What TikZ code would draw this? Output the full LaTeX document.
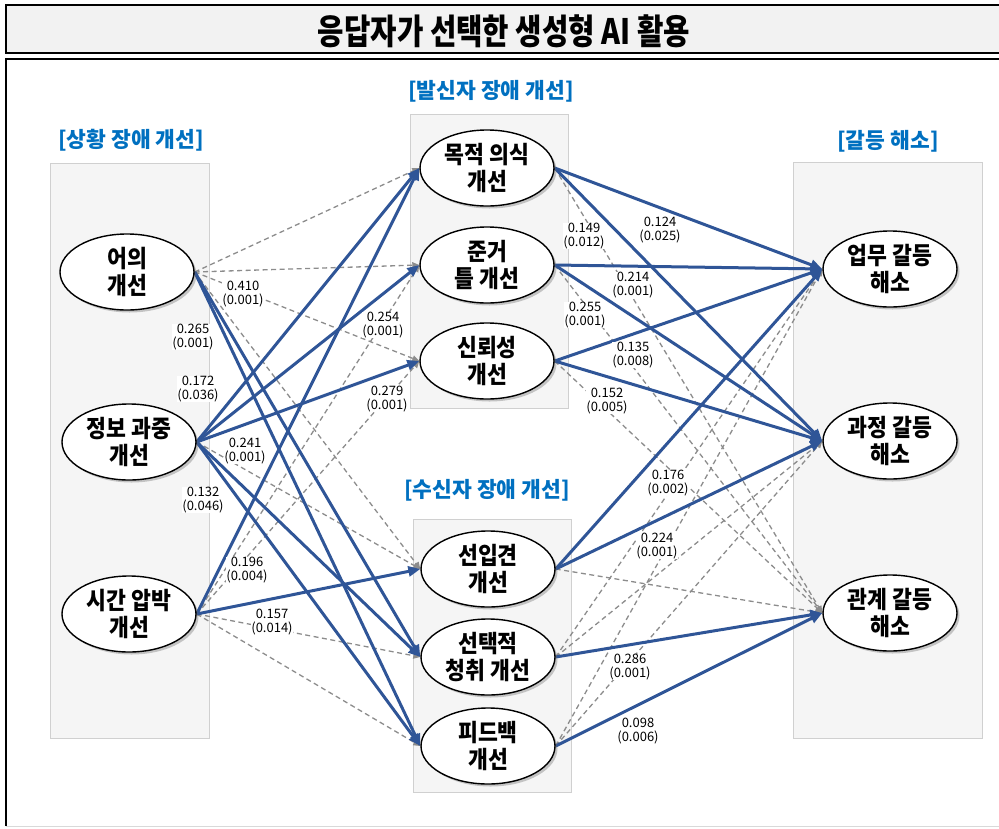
\documentclass[tikz,border=0pt]{standalone}
\usepackage{fontspec}
\usetikzlibrary{shapes.geometric,arrows.meta,shadows}
\newfontfamily\krfont{Noto Sans CJK KR}
\newfontfamily\krtitle{Noto Sans CJK KR}[FakeStretch=0.82]
\newfontfamily\krnode{Noto Sans CJK KR}[FakeStretch=0.9]
\definecolor{pathblue}{HTML}{2F5597}
\definecolor{labblue}{HTML}{0070C0}
\definecolor{grpfill}{HTML}{F5F5F5}
\definecolor{grpline}{HTML}{D0D0D0}
\definecolor{dashgray}{HTML}{8C8C8C}
\pgfdeclarelayer{bg}
\pgfdeclarelayer{edges}
\pgfsetlayers{bg,edges,main}
\tikzset{
  ell/.style={ellipse, draw=black, line width=1.4pt, fill=white,
    minimum width=134pt, minimum height=76pt, inner sep=0pt, align=center,
    font=\krnode\bfseries\fontsize{24}{27.5}\selectfont,
    drop shadow={shadow xshift=2.5pt, shadow yshift=-2.5pt, opacity=0.35, fill=black!60}},
  grp/.style={draw=grpline, fill=grpfill, line width=0.8pt},
  grplabel/.style={text=labblue, inner sep=0pt, font=\krfont\bfseries\fontsize{21.5}{24}\selectfont},
  sig/.style={draw=pathblue, line width=3pt, -{Triangle[length=12pt,width=10pt]}},
  ns/.style={draw=dashgray, line width=1.3pt, dash pattern=on 5pt off 3.5pt, -{Triangle[length=7pt,width=6pt]}},
  coef/.style={fill=white, inner sep=0.6pt, align=center, font=\krfont\fontsize{13}{13.5}\selectfont},
}
\begin{document}
\begin{tikzpicture}[x=1pt,y=-1pt]
\useasboundingbox (0,0) rectangle (999,828);
% frames
\draw[black!15, line width=1pt] (6,826) -- (1010,826);
\draw[black, line width=2.5pt] (6,826) -- (6,59) -- (1010,59);
\draw[fill=black!5, line width=2.5pt] (6,5) rectangle (1010,53);
\node[font=\krtitle\bfseries\fontsize{35}{38}\selectfont, inner sep=0pt] (title) at (504,31) {응답자가 선택한 생성형 AI 활용};
% groups
\begin{pgfonlayer}{bg}
\draw[grp] (50,163) rectangle (209,738);
\draw[grp] (410,114) rectangle (568,408);
\draw[grp] (413,519) rectangle (571,792);
\draw[grp] (793,162) rectangle (982,738);
\end{pgfonlayer}
\node[grplabel] (g1) at (131,140) {[상황 장애 개선]};
\node[grplabel] (g2) at (491,91) {[발신자 장애 개선]};
\node[grplabel] (g3) at (487,490) {[수신자 장애 개선]};
\node[grplabel] (g4) at (888,141) {[갈등 해소]};
% nodes
\node[ell] (a1) at (127,272) {어의\\개선};
\node[ell] (a2) at (129,442) {정보 과중\\개선};
\node[ell] (a3) at (129,614) {시간 압박\\개선};
\node[ell] (m1) at (487,168) {목적 의식\\개선};
\node[ell] (m2) at (487,265) {준거\\틀 개선};
\node[ell] (m3) at (487,361) {신뢰성\\개선};
\node[ell] (m4) at (488,569) {선입견\\개선};
\node[ell] (m5) at (488,657) {선택적\\청취 개선};
\node[ell] (m6) at (488,746) {피드백\\개선};
\node[ell] (r1) at (890,269) {업무 갈등\\해소};
\node[ell] (r2) at (890,441) {과정 갈등\\해소};
\node[ell] (r3) at (890,613) {관계 갈등\\해소};
% edges
\begin{pgfonlayer}{edges}
\draw[ns] (a1.east) -- (m1.west);
\draw[ns] (a1.east) -- (m2.west);
\draw[ns] (a1.east) -- (m3.west);
\draw[ns] (a1.east) -- (m4.west);
\draw[ns] (a2.east) -- (m4.west);
\draw[ns] (a3.east) -- (m2.west);
\draw[ns] (a3.east) -- (m3.west);
\draw[ns] (a3.east) -- (m5.west);
\draw[ns] (a3.east) -- (m6.west);
\draw[ns] (m1.east) -- (r3.west);
\draw[ns] (m2.east) -- (r3.west);
\draw[ns] (m3.east) -- (r3.west);
\draw[ns] (m4.east) -- (r3.west);
\draw[ns] (m5.east) -- (r1.west);
\draw[ns] (m5.east) -- (r2.west);
\draw[ns] (m6.east) -- (r1.west);
\draw[ns] (m6.east) -- (r2.west);
\draw[sig] (a1.east) -- (m5.west);
\draw[sig] (a1.east) -- (m6.west);
\draw[sig] (a2.east) -- (m1.west);
\draw[sig] (a2.east) -- (m2.west);
\draw[sig] (a2.east) -- (m3.west);
\draw[sig] (a2.east) -- (m5.west);
\draw[sig] (a2.east) -- (m6.west);
\draw[sig] (a3.east) -- (m1.west);
\draw[sig] (a3.east) -- (m4.west);
\draw[sig] (m1.east) -- (r1.west);
\draw[sig] (m1.east) -- (r2.west);
\draw[sig] (m2.east) -- (r1.west);
\draw[sig] (m2.east) -- (r2.west);
\draw[sig] (m3.east) -- (r1.west);
\draw[sig] (m3.east) -- (r2.west);
\draw[sig] (m4.east) -- (r1.west);
\draw[sig] (m4.east) -- (r2.west);
\draw[sig] (m5.east) -- (r3.west);
\draw[sig] (m6.east) -- (r3.west);
\end{pgfonlayer}
% coefficients
\node[coef] (c1) at (243,294) {0.410\\(0.001)};
\node[coef] (c2) at (193,337) {0.265\\(0.001)};
\node[coef] (c3) at (198,389) {0.172\\(0.036)};
\node[coef] (c4) at (383,325) {0.254\\(0.001)};
\node[coef] (c5) at (387,399) {0.279\\(0.001)};
\node[coef] (c6) at (245,451) {0.241\\(0.001)};
\node[coef] (c7) at (203,500) {0.132\\(0.046)};
\node[coef] (c8) at (247,570) {0.196\\(0.004)};
\node[coef] (c9) at (272,622) {0.157\\(0.014)};
\node[coef] (c10) at (584,236) {0.149\\(0.012)};
\node[coef] (c11) at (660,230) {0.124\\(0.025)};
\node[coef] (c12) at (633,285) {0.214\\(0.001)};
\node[coef] (c13) at (585,315) {0.255\\(0.001)};
\node[coef] (c14) at (633,355) {0.135\\(0.008)};
\node[coef] (c15) at (607,401) {0.152\\(0.005)};
\node[coef] (c16) at (668,483) {0.176\\(0.002)};
\node[coef] (c17) at (657,546) {0.224\\(0.001)};
\node[coef] (c18) at (630,667) {0.286\\(0.001)};
\node[coef] (c19) at (638,731) {0.098\\(0.006)};
\end{tikzpicture}
\end{document}
